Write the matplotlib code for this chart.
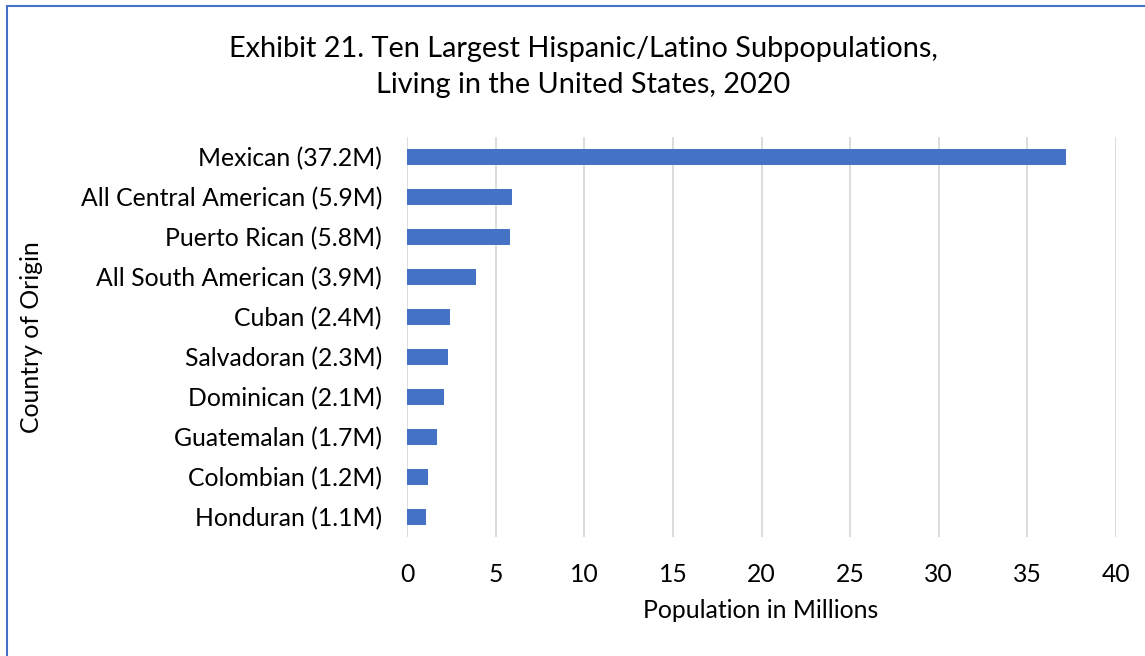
import matplotlib
matplotlib.use("Agg")
import matplotlib.pyplot as plt
from matplotlib.patches import Rectangle

categories = ["Mexican (37.2M)", "All Central American (5.9M)", "Puerto Rican (5.8M)",
              "All South American (3.9M)", "Cuban (2.4M)", "Salvadoran (2.3M)",
              "Dominican (2.1M)", "Guatemalan (1.7M)", "Colombian (1.2M)", "Honduran (1.1M)"]
values = [37.2, 5.9, 5.8, 3.9, 2.4, 2.3, 2.1, 1.7, 1.2, 1.1]
xticks = [0, 5, 10, 15, 20, 25, 30, 35, 40]

plt.rcParams['font.family'] = ['Lato', 'DejaVu Sans']

W, H = 1145, 656
fig = plt.figure(figsize=(W/100, H/100), dpi=100)
ax = fig.add_axes([407/W, 1-537/H, (1116-407)/W, 400/H])

FS = 17.8
y = list(range(len(categories)))[::-1]
ax.barh(y, values, height=0.4, color="#4472C4", zorder=3)
ax.set_ylim(-0.5, len(categories)-0.5)
ax.set_xlim(0, 40)
ax.set_xticks(xticks)
ax.set_yticks(y)
ax.set_yticklabels(categories, fontsize=FS, color="#000000")
ax.tick_params(axis='x', labelsize=FS, length=0, pad=19, colors="#000000")
ax.tick_params(axis='y', length=0, pad=18)
ax.xaxis.grid(True, color="#D9D9D9", linewidth=1.3, zorder=0)
for s in ax.spines.values():
    s.set_visible(False)

fig.text(761/W, 1-611/H, "Population in Millions", fontsize=FS, ha="center", va="center")
fig.text(32/W, 1-337/H, "Country of Origin", fontsize=FS, ha="center", va="center", rotation=90)

fig.text(583/W, 1-67/H, "Exhibit 21. Ten Largest Hispanic/Latino Subpopulations,\nLiving in the United States, 2020",
         ha="center", va="center", fontsize=20.8, linespacing=1.45)

fig.patches.append(Rectangle((7/W, -0.1), 1.2, 1-6/H+0.1, transform=fig.transFigure,
                             fill=False, edgecolor="#4472C4", linewidth=1.5))

fig.savefig("out.png", dpi=100)
